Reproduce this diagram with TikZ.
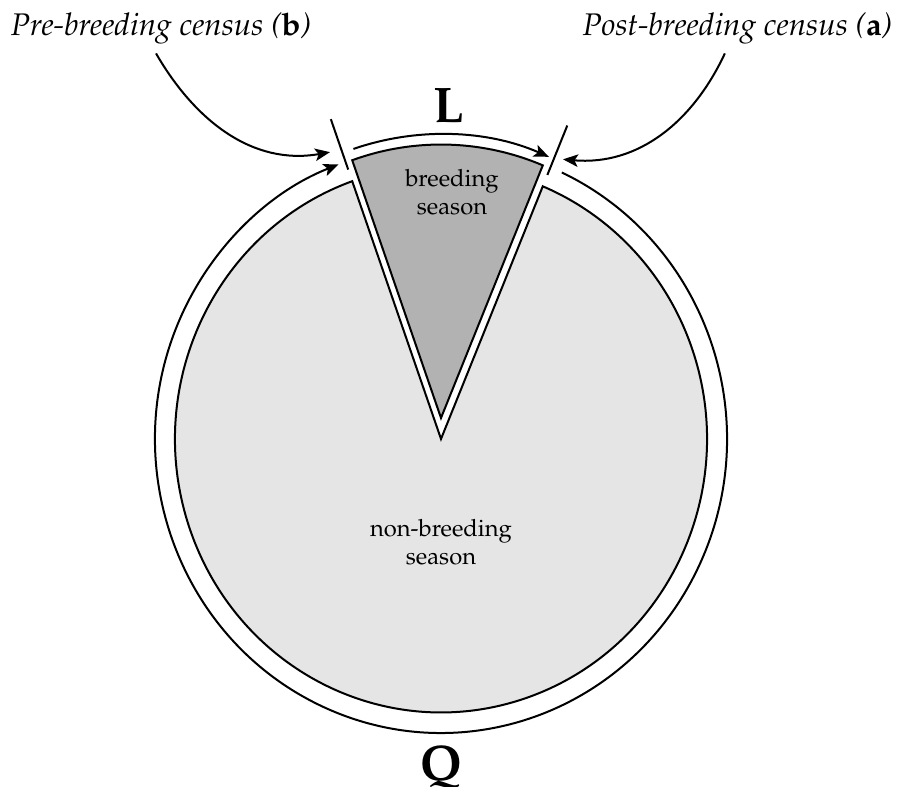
\documentclass[tikz,border=0pt]{standalone}
\usepackage[T1]{fontenc}
\usepackage{mathpazo}
\usepackage{tikz}
\usetikzlibrary{arrows.meta}
\usetikzlibrary{positioning}
\tikzstyle{season} = [draw=black, line width=0.8pt]
\tikzstyle{censusline} = [draw=black, line width=0.8pt]
\tikzstyle{arrow} = [line width=0.8pt,->,>={Stealth[length=6pt, width=5pt, inset=1.4pt]}]
\tikzstyle{census} = [font=\fontsize{12.5}{15}\selectfont\itshape]
\tikzstyle{seasonlabel} = [align=center, font=\fontsize{9.5}{11.2}\selectfont]
\tikzstyle{letter} = [font=\fontsize{20}{24}\selectfont\bfseries]

\begin{document}
\begin{tikzpicture}[x=0.4pt, y=0.4112pt]
\useasboundingbox (-441,-338.5) rectangle (456,427);
\coordinate (centre) at (0,0);
\coordinate (apex) at (0,20.4);
\coordinate (preA) at (109.5:278);
\coordinate (preB) at (109.5:330);
\coordinate (postA) at (67.5:278);
\coordinate (postB) at (67.5:330);
\coordinate (ringstart) at (65:286);
\coordinate (lstart) at ([shift={(108.5:276)}]apex);
\coordinate (pretip) at (-111,279);
\coordinate (posttip) at (122,272);

\path[season, fill=gray!20] (centre) -- ++(109.5:266) arc[start angle=109.5, end angle=427.5, radius=266] -- cycle;
\path[season, fill=gray!60] (apex) -- ++(67.5:266) arc[start angle=67.5, end angle=109.5, radius=266] -- cycle;

\draw [censusline] (preA) -- (preB);
\draw [censusline] (postA) -- (postB);
\draw [arrow] (ringstart) arc[start angle=65, end angle=-249, radius=286];
\draw [arrow] (lstart) arc[start angle=108.5, end angle=67, radius=276];

\node (pre) [census, anchor=base west] at (-439,392) {Pre-breeding census (\textbf{\upshape b})};
\node (post) [census, anchor=base east] at (460,392) {Post-breeding census (\textbf{\upshape a})};
\node (L) [letter] at (8,324) {L};
\node (Q) [letter, anchor=base] at (0,-332) {Q};
\node (breeding) [seasonlabel] at (11,240) {breeding\\season};
\node (nonbreeding) [seasonlabel] at (0,-100) {non-breeding\\season};

\draw [arrow] ([xshift=-2pt]pre.south) to[out=-60, in=-170] (pretip);
\draw [arrow] ([xshift=-5pt]post.south) to[out=-115, in=-5] (posttip);
\end{tikzpicture}
\end{document}
